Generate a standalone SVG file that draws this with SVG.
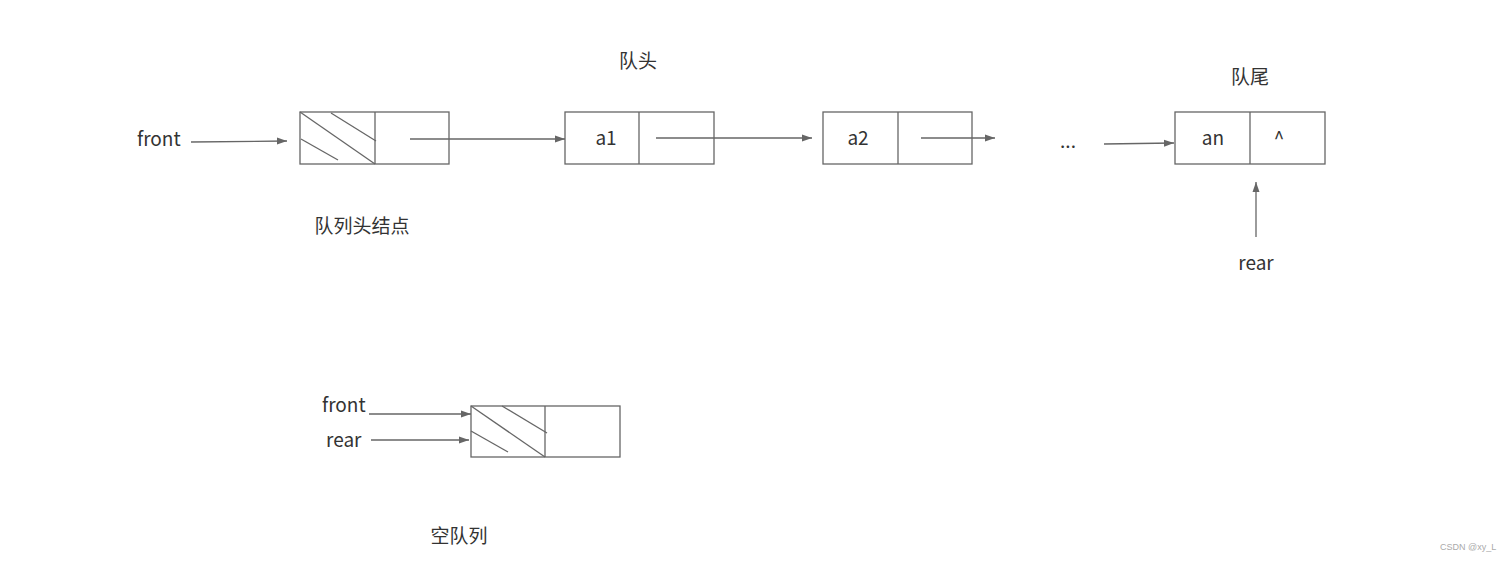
<svg xmlns="http://www.w3.org/2000/svg" width="1509" height="561" viewBox="0 0 1509 561">
<defs>
<marker id="arr" viewBox="0 0 10 10" refX="10" refY="5" markerWidth="10" markerHeight="10" markerUnits="userSpaceOnUse" orient="auto">
<path d="M0,1.5 L10,5 L0,8.5 z" fill="#666"/>
</marker>
<style>
.box{fill:#fff;stroke:#666;stroke-width:1.3}
.ln{fill:none;stroke:#666;stroke-width:1.3}
.c{stroke:#666;stroke-width:1.3;fill:none;marker-end:url(#arr)}
text{font-family:"Noto Sans CJK SC","Noto Sans",sans-serif;font-size:19px;fill:#333}
.m{text-anchor:middle}
</style>
</defs>
<rect width="1509" height="561" fill="#fff"/>
<g id="head">
<rect class="box" x="300" y="112" width="149" height="52"/>
<line class="ln" x1="375" y1="112" x2="375" y2="164"/>
<line class="ln" x1="300" y1="112" x2="375" y2="164"/>
<line class="ln" x1="331" y1="113" x2="376" y2="141"/>
<line class="ln" x1="301" y1="139" x2="338" y2="160"/>
</g>
<g id="a1">
<rect class="box" x="565" y="112" width="149" height="52"/>
<line class="ln" x1="639" y1="112" x2="639" y2="164"/>
<text class="m" x="606" y="145">a1</text>
</g>
<g id="a2">
<rect class="box" x="823" y="112" width="149" height="52"/>
<line class="ln" x1="898" y1="112" x2="898" y2="164"/>
<text class="m" x="858" y="145">a2</text>
</g>
<g id="an">
<rect class="box" x="1175" y="112" width="150" height="52"/>
<line class="ln" x1="1250" y1="112" x2="1250" y2="164"/>
<text class="m" x="1213" y="145">an</text>
<text class="m" x="1279" y="145">^</text>
</g>
<g id="empty">
<rect class="box" x="471" y="406" width="149" height="51"/>
<line class="ln" x1="545" y1="406" x2="545" y2="457"/>
<line class="ln" x1="471" y1="406" x2="545" y2="457"/>
<line class="ln" x1="502" y1="406" x2="547" y2="433"/>
<line class="ln" x1="471" y1="431" x2="508" y2="452"/>
</g>
<g id="connectors">
<line class="c" x1="191" y1="142" x2="287" y2="141"/>
<line class="c" x1="410" y1="139" x2="565" y2="139"/>
<line class="c" x1="656" y1="138" x2="812" y2="138"/>
<line class="c" x1="921" y1="138" x2="995" y2="138"/>
<line class="c" x1="1104" y1="144" x2="1174" y2="143"/>
<line class="c" x1="1256" y1="237" x2="1256" y2="182"/>
<line class="c" x1="369" y1="414" x2="471" y2="414"/>
<line class="c" x1="371" y1="440" x2="469" y2="440"/>
</g>
<g id="labels">
<text x="137" y="146">front</text>
<text class="m" x="638" y="68">队头</text>
<text class="m" x="1250" y="84">队尾</text>
<text class="m" x="1068" y="148">...</text>
<text class="m" x="362" y="233">队列头结点</text>
<text class="m" x="1256" y="270">rear</text>
<text x="322" y="412">front</text>
<text x="326" y="447">rear</text>
<text class="m" x="459" y="543">空队列</text>
<text x="1440" y="550" style="font-size:9px;fill:#aaa;font-family:'Liberation Sans',sans-serif">CSDN @xy_L</text>
</g>
</svg>
